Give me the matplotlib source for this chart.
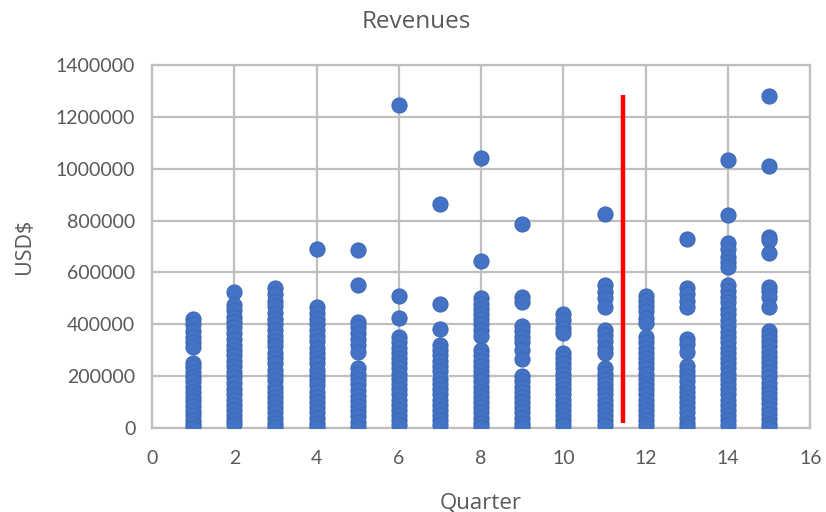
import matplotlib
matplotlib.use("Agg")
import matplotlib.pyplot as plt

# ---- data ----
q1 = [420000, 400000, 375000, 350000, 330000, 312000, 250000, 235000, 215000, 195000, 180000, 160000, 140000, 120000, 105000, 85000, 65000, 50000, 30000, 15000, 0]
q2 = [525000, 475000, 455000, 430000, 410000, 390000, 365000, 345000, 320000, 300000, 280000, 260000, 240000, 215000, 195000, 175000, 150000, 130000, 110000, 90000, 70000, 50000, 30000, 15000]
q3 = [540000, 515000, 490000, 470000, 445000, 420000, 400000, 380000, 355000, 335000, 315000, 290000, 270000, 250000, 225000, 205000, 185000, 160000, 140000, 120000, 100000, 80000, 60000, 40000, 20000, 5000]
q4 = [690000, 465000, 445000, 420000, 400000, 380000, 355000, 335000, 310000, 290000, 270000, 250000, 225000, 205000, 185000, 165000, 140000, 120000, 100000, 80000, 60000, 40000, 20000, 5000]
q5 = [685000, 550000, 410000, 390000, 365000, 345000, 320000, 295000, 230000, 210000, 190000, 170000, 145000, 125000, 105000, 85000, 65000, 45000, 25000, 5000]
q6 = [1245000, 510000, 425000, 350000, 330000, 310000, 290000, 270000, 250000, 230000, 210000, 190000, 170000, 150000, 130000, 110000, 90000, 70000, 50000, 30000, 10000]
q7 = [865000, 478000, 383000, 320000, 300000, 280000, 260000, 240000, 220000, 190000, 170000, 150000, 130000, 110000, 90000, 70000, 50000, 30000, 10000]
q8 = [1040000, 645000, 500000, 480000, 460000, 440000, 420000, 400000, 380000, 355000, 300000, 280000, 260000, 240000, 220000, 200000, 180000, 160000, 140000, 120000, 100000, 80000, 60000, 40000, 20000, 5000]
q9 = [785000, 505000, 485000, 395000, 375000, 350000, 330000, 300000, 265000, 200000, 180000, 160000, 140000, 120000, 100000, 80000, 60000, 40000, 20000, 5000]
q10 = [440000, 415000, 385000, 365000, 290000, 270000, 250000, 230000, 210000, 190000, 170000, 150000, 130000, 110000, 90000, 70000, 50000, 30000, 10000]
q11 = [825000, 550000, 525000, 500000, 465000, 380000, 360000, 335000, 310000, 290000, 230000, 210000, 190000, 170000, 150000, 130000, 110000, 90000, 70000, 50000, 30000, 10000]
q12 = [510000, 490000, 470000, 450000, 425000, 405000, 350000, 330000, 310000, 290000, 270000, 250000, 230000, 210000, 190000, 170000, 150000, 130000, 110000, 90000, 70000, 50000, 30000, 10000]
q13 = [730000, 540000, 515000, 490000, 467000, 345000, 325000, 295000, 240000, 220000, 200000, 180000, 160000, 140000, 120000, 100000, 80000, 60000, 40000, 20000, 5000]
q14 = [1035000, 820000, 715000, 690000, 660000, 640000, 620000, 550000, 530000, 505000, 485000, 460000, 440000, 415000, 395000, 370000, 350000, 330000, 310000, 290000, 270000, 250000, 230000, 210000, 190000, 170000, 150000, 130000, 110000, 90000, 70000, 50000, 30000, 10000]
q15 = [1280000, 1010000, 735000, 725000, 675000, 545000, 530000, 505000, 467000, 375000, 355000, 335000, 315000, 295000, 275000, 255000, 235000, 215000, 195000, 175000, 155000, 135000, 115000, 95000, 75000, 55000, 35000, 15000, 0]

quarter_values = [q1, q2, q3, q4, q5, q6, q7, q8, q9, q10, q11, q12, q13, q14, q15]

marker_x = 11.45
marker_y = [20000, 1285000]

x_ticks = [0, 2, 4, 6, 8, 10, 12, 14, 16]
y_ticks = [0, 200000, 400000, 600000, 800000, 1000000, 1200000, 1400000]

# ---- plot ----
plt.rcParams['font.family'] = ['Lato', 'DejaVu Sans']
text_color = '#595959'
grid_color = '#BFBFBF'

fig = plt.figure(figsize=(8.26, 5.12), dpi=100)
ax = fig.add_axes([0.184, 0.164, 0.797, 0.709])

xs, ys = [], []
for i, vals in enumerate(quarter_values, start=1):
    xs.extend([i] * len(vals))
    ys.extend(vals)
ax.scatter(xs, ys, s=118, color='#4472C4', edgecolors='#3F69B5', linewidths=0.8, zorder=3)

ax.plot([marker_x, marker_x], marker_y, color='#FF0000', linewidth=3.2, solid_capstyle='butt', zorder=4)

ax.set_xlim(0, 16)
ax.set_ylim(0, 1400000)
ax.set_xticks(x_ticks)
ax.set_yticks(y_ticks)
ax.set_xticklabels([str(t) for t in x_ticks])
ax.set_yticklabels([str(t) for t in y_ticks])
ax.grid(True, color=grid_color, linewidth=1.6, zorder=0)
ax.set_axisbelow(True)
for sp in ax.spines.values():
    sp.set_color(grid_color)
    sp.set_linewidth(1.6)
ax.tick_params(axis='both', length=0, labelsize=14, labelcolor=text_color)
ax.tick_params(axis='y', pad=12)
ax.tick_params(axis='x', pad=16)

fig.text(481 / 826, 1 - 503 / 512, 'Quarter', ha='center', va='center', fontsize=16,
         color=text_color, family=['Open Sans', 'DejaVu Sans'])
fig.text(25 / 826, 1 - 246 / 512, 'USD$', ha='center', va='center', rotation=90, fontsize=15.5,
         color=text_color, family=['Open Sans', 'DejaVu Sans'])
fig.text(416 / 826, 1 - 22 / 512, 'Revenues', ha='center', va='center', fontsize=17.5,
         color=text_color, family=['Open Sans', 'DejaVu Sans'])

fig.savefig('out.png', dpi=100)
